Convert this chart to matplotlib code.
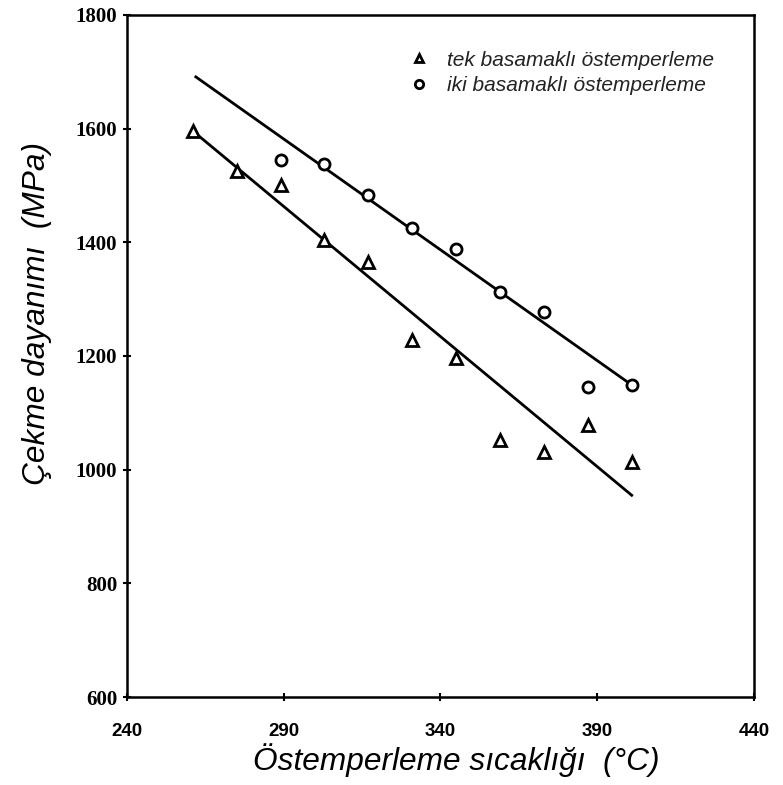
import numpy as np
import matplotlib.pyplot as plt

# data
temp = [261, 275, 289, 303, 317, 331, 345, 359, 373, 387, 401]
tek = [1595, 1525, 1500, 1404, 1365, 1228, 1196, 1052, 1031, 1078, 1013]
iki_temp = [289, 303, 317, 331, 345, 359, 373, 387, 401]
iki = [1545, 1538, 1483, 1425, 1388, 1312, 1277, 1145, 1149]

# fitted lines (end points as drawn)
tek_fit_x = [261, 401]
tek_fit_y = [1596, 955]
iki_fit_x = [262, 401]
iki_fit_y = [1691, 1149]

xticks = [240, 290, 340, 390, 440]
yticks = [600, 800, 1000, 1200, 1400, 1600, 1800]

fig = plt.figure(figsize=(7.83, 7.85), dpi=100)
ax = fig.add_axes([0.162, 0.112, 0.801, 0.869])

ax.plot(tek_fit_x, tek_fit_y, color='black', lw=2.0)
ax.plot(iki_fit_x, iki_fit_y, color='black', lw=2.0)
ax.plot(temp, tek, ls='none', marker='^', ms=8, mfc='white', mec='black', mew=2.0,
        label='tek basamaklı östemperleme')
ax.plot(iki_temp, iki, ls='none', marker='o', ms=8, mfc='white', mec='black', mew=2.0,
        label='iki basamaklı östemperleme')

ax.set_xlim(240, 440)
ax.set_ylim(600, 1800)
ax.set_xticks(xticks)
ax.set_yticks(yticks)
ax.set_xticklabels([str(t) for t in xticks], family=['Liberation Sans', 'DejaVu Sans'],
                   fontsize=13.5, fontweight='bold')
ax.set_yticklabels([str(t) for t in yticks], family=['Liberation Serif', 'DejaVu Serif'],
                   fontsize=15, fontweight='bold')
ax.tick_params(axis='x', direction='inout', length=6, width=1.5, pad=16)
ax.tick_params(axis='y', direction='inout', length=6, width=1.5, pad=4)

for s in ax.spines.values():
    s.set_linewidth(1.8)

ax.set_xlabel('Östemperleme sıcaklığı  (°C)', family='Liberation Sans', style='italic',
              fontsize=22.8, labelpad=-2)
ax.xaxis.set_label_coords(0.525, -0.068)
ax.set_ylabel('Çekme dayanımı  (MPa)', family='Liberation Sans', style='italic',
              fontsize=22.8)
ax.yaxis.set_label_coords(-0.12, 0.563)

leg = ax.legend(loc='upper left', bbox_to_anchor=(0.42, 0.975), frameon=False,
                prop={'family': 'Liberation Sans', 'style': 'italic', 'size': 15},
                handletextpad=0.8, labelspacing=0.3, markerscale=0.75,
                handlelength=1.0)
for t in leg.get_texts():
    t.set_color('#222222')

fig.savefig('out.png', dpi=100)
